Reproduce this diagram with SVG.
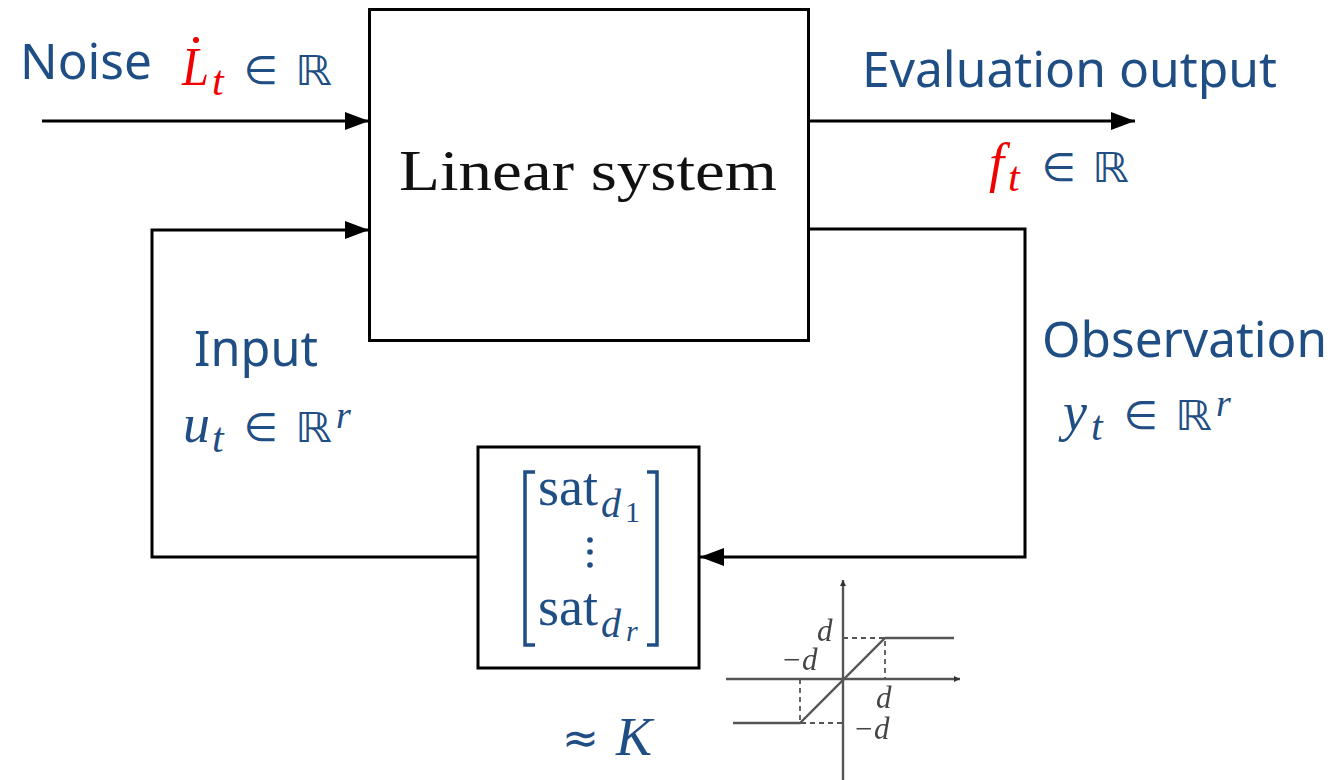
<svg xmlns="http://www.w3.org/2000/svg" width="1337" height="780" viewBox="0 0 1337 780">
<style>
.label{font-family:"Noto Sans","Open Sans",sans-serif;font-size:50px;fill:#1f4e84}
.math{font-family:"Liberation Serif","DejaVu Serif",serif;font-size:54px;fill:#1f4e84}
.it{font-style:italic}
.red{fill:#f00000}
.in{font-family:"DejaVu Sans",sans-serif;font-size:39px;fill:#1f4e84}
.bb{font-family:"DejaVu Sans",sans-serif;font-size:41px;fill:#1f4e84}
.sub{font-size:42px}
.sub2{font-size:40px}
.sub3{font-size:30px}
.sup{font-size:38px}
.box{fill:#fff;stroke:#000;stroke-width:3}
.wire{fill:none;stroke:#000;stroke-width:3}
.plot{fill:none;stroke:#555;stroke-width:2.400}
.dash{fill:none;stroke:#555;stroke-width:1.800;stroke-dasharray:5 4}
.pl{font-family:"Liberation Serif",serif;font-style:italic;font-size:31px;fill:#444}
</style>
<defs>
<marker id="arrow" markerUnits="userSpaceOnUse" markerWidth="26" markerHeight="20" refX="24" refY="9" orient="auto"><path d="M0 0L24 9L0 18z" fill="#000"/></marker>
<marker id="tip" markerUnits="userSpaceOnUse" markerWidth="8" markerHeight="8" refX="6" refY="3" orient="auto"><path d="M0 0L6 3L0 6z" fill="#333"/></marker>
<filter id="soft" x="-5%" y="-5%" width="110%" height="110%"><feGaussianBlur stdDeviation="0.600"/></filter>
</defs>
<g id="connectors">
<path class="wire" d="M42 121H369" marker-end="url(#arrow)"/>
<path class="wire" d="M809 121H1135" marker-end="url(#arrow)"/>
<path class="wire" d="M478 557H152V230H369" marker-end="url(#arrow)"/>
<path class="wire" d="M809 229H1025V557H700" marker-end="url(#arrow)"/>
</g>
<g id="node-linear-system">
<rect class="box" x="369.500" y="9.500" width="439" height="331"/>
<text x="399" y="190" font-family="Liberation Serif,serif" font-size="56" fill="#111" textLength="378" lengthAdjust="spacingAndGlyphs">Linear system</text>
</g>
<g id="node-saturation">
<rect class="box" x="478" y="447" width="221" height="221"/>
<path d="M535 472H525V645H535M647 472H657V645H647" fill="none" stroke="#1f4e84" stroke-width="3.500"/>
<text class="math" x="538" y="505">sat</text>
<text class="math it sub2" x="601" y="517">d</text><text class="math sub3" x="625" y="522">1</text>
<text class="math" x="538" y="625">sat</text>
<text class="math it sub2" x="601" y="637">d</text><text class="math it sub3" x="626" y="641">r</text>
<circle cx="590" cy="540" r="2.800" fill="#1f4e84"/><circle cx="590" cy="552" r="2.800" fill="#1f4e84"/><circle cx="590" cy="565" r="2.800" fill="#1f4e84"/>
</g>
<g id="labels">
<text class="label" x="20" y="79" textLength="132" lengthAdjust="spacingAndGlyphs">Noise</text>
<text class="math it red" x="182" y="85" textLength="27" lengthAdjust="spacingAndGlyphs">L</text>
<circle cx="196" cy="40" r="3" fill="#f00000"/>
<text class="math it red sub" x="212" y="95">t</text>
<text class="in" x="244" y="84">∈</text><text class="bb" x="295" y="85" textLength="37" lengthAdjust="spacingAndGlyphs">ℝ</text>
<text class="label" x="862" y="87" textLength="415" lengthAdjust="spacingAndGlyphs">Evaluation output</text>
<text class="math it red" x="989" y="181" textLength="15" lengthAdjust="spacingAndGlyphs">f</text>
<text class="math it red sub" x="1008" y="191">t</text>
<text class="in" x="1042" y="181">∈</text><text class="bb" x="1092" y="182" textLength="37" lengthAdjust="spacingAndGlyphs">ℝ</text>
<text class="label" x="194" y="366" textLength="124" lengthAdjust="spacingAndGlyphs">Input</text>
<text class="math it" x="183" y="442">u</text><text class="math it sub" x="212" y="452">t</text>
<text class="in" x="244" y="441">∈</text><text class="bb" x="295" y="442" textLength="37" lengthAdjust="spacingAndGlyphs">ℝ</text><text class="math it sup" x="336" y="428">r</text>
<text class="label" x="1042" y="357" textLength="285" lengthAdjust="spacingAndGlyphs">Observation</text>
<text class="math it" x="1063" y="430">y</text><text class="math it sub" x="1091" y="440">t</text>
<text class="in" x="1124" y="429">∈</text><text class="bb" x="1175" y="430" textLength="37" lengthAdjust="spacingAndGlyphs">ℝ</text><text class="math it sup" x="1216" y="416">r</text>
<text class="in" x="562" y="753" style="font-size:44px">≈</text><text class="math it" x="616" y="755">K</text>
</g>
<g id="saturation-plot" filter="url(#soft)">
<path class="plot" d="M726 679H960" marker-end="url(#tip)"/>
<path class="plot" d="M843 780V580" marker-end="url(#tip)"/>
<path class="plot" d="M733 723H800L885 638H954"/>
<path class="dash" d="M843 638H885V679M800 679V723H843"/>
<text class="pl" x="817" y="641">d</text>
<text class="pl" x="781" y="670">−d</text>
<text class="pl" x="876" y="708">d</text>
<text class="pl" x="853" y="739">−d</text>
</g>
</svg>
